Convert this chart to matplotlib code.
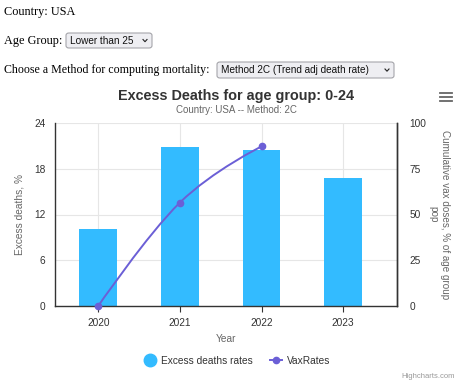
import matplotlib.pyplot as plt
import numpy as np
from matplotlib.path import Path
from matplotlib.patches import PathPatch, FancyBboxPatch
from matplotlib.lines import Line2D

years = ["2020", "2021", "2022", "2023"]
excess = [10.1, 20.9, 20.4, 16.8]
vax_years = [0, 1, 2]
vax = [0, 56.5, 87.2]

BAR = "#33bbff"
LINE = "#6b5fd6"
sans = "Liberation Sans"
serif = "Liberation Serif"

W, H = 468, 380
fig = plt.figure(figsize=(W / 100, H / 100), dpi=100)

def fx(px):
    return px / W

def fy(py):
    return 1 - py / H

# html controls above the chart
fig.text(fx(4), fy(12), "Country: USA", family=serif, size=8.8, va="center")
fig.text(fx(4), fy(41), "Age Group:", family=serif, size=8.8, va="center")
fig.text(fx(4), fy(70), "Choose a Method for computing mortality:", family=serif, size=8.6, va="center")

def dropdown(x0, x1, y0, y1, label):
    box = FancyBboxPatch((fx(x0), fy(y1)), fx(x1 - x0), (y1 - y0) / H,
                         boxstyle="round,pad=0,rounding_size=0.006",
                         transform=fig.transFigure, fc="#eeeef2", ec="#9a9aa0", lw=0.7)
    fig.patches.append(box)
    fig.text(fx(x0 + 4), fy((y0 + y1) / 2), label, family=sans, size=7.2, va="center", color="#111111")
    cx, cy = x1 - 7, (y0 + y1) / 2
    fig.add_artist(Line2D([fx(cx - 2), fx(cx), fx(cx + 2)], [fy(cy - 1), fy(cy + 1.2), fy(cy - 1)],
                          transform=fig.transFigure, color="#222222", lw=0.8))

dropdown(66, 152, 33, 48, "Lower than 25")
dropdown(217, 394, 62, 78, "Method 2C (Trend adj death rate)")

# chart
ax = fig.add_axes([fx(55), fy(306), fx(397 - 55), (306 - 123) / H])
x = np.arange(len(years))
ax.bar(x, excess, width=0.465, color=BAR, zorder=2)
ax.set_xlim(-0.53, 3.66)
ax.set_ylim(0, 24)
ax.set_yticks([0, 6, 12, 18, 24])
ax.set_xticks(x)
ax.set_xticklabels(years)
ax.grid(True, color="#e6e6e6", lw=0.8, zorder=0)
ax.set_axisbelow(True)
ax.spines["top"].set_visible(False)
for s in ["left", "right", "bottom"]:
    ax.spines[s].set_color("#333333")
    ax.spines[s].set_linewidth(1.0)
ax.tick_params(axis="y", length=0, labelsize=7.3, labelcolor="#333333", pad=7)
ax.tick_params(axis="x", length=4, color="#333333", labelsize=7.3, labelcolor="#333333", pad=5)
for t in ax.get_xticklabels() + ax.get_yticklabels():
    t.set_family(sans)
ax.set_xlabel("Year", family=sans, size=7.3, color="#666666", labelpad=4)
ax.set_ylabel("Excess deaths, %", family=sans, size=7.3, color="#666666", labelpad=7)

ax2 = ax.twinx()
ax2.set_ylim(0, 100)
ax2.set_yticks([0, 25, 50, 75, 100])
ax2.tick_params(axis="y", length=0, labelsize=7.3, labelcolor="#333333", pad=9)
for t in ax2.get_yticklabels():
    t.set_family(sans)
for s in ["top", "left", "bottom"]:
    ax2.spines[s].set_visible(False)
ax2.spines["right"].set_color("#333333")
ax2.spines["right"].set_linewidth(1.0)
ax2.set_ylabel("Cumulative vax doses, % of age group\npop", family=sans, size=7.1,
               color="#666666", rotation=270, labelpad=17, linespacing=1.25)

# spline like highcharts (smoothing 1.5)
def spline_path(xs, ys, smooth=1.5):
    n = len(xs)
    verts = [(xs[0], ys[0])]
    codes = [Path.MOVETO]
    conts = []
    for i in range(n):
        if 0 < i < n - 1:
            d = smooth + 1
            lx = (smooth * xs[i] + xs[i - 1]) / d
            ly = (smooth * ys[i] + ys[i - 1]) / d
            rx = (smooth * xs[i] + xs[i + 1]) / d
            ry = (smooth * ys[i] + ys[i + 1]) / d
            corr = ((ry - ly) * (rx - xs[i])) / (rx - lx) + ys[i] - ry
            conts.append(((lx, ly + corr), (rx, ry + corr)))
        else:
            conts.append(((xs[i], ys[i]), (xs[i], ys[i])))
    for i in range(1, n):
        verts += [conts[i - 1][1], conts[i][0], (xs[i], ys[i])]
        codes += [Path.CURVE4] * 3
    return Path(verts, codes)

ax2.add_patch(PathPatch(spline_path(vax_years, vax), fc="none", ec=LINE, lw=1.4, zorder=4))
ax2.plot(vax_years, vax, "o", color=LINE, ms=4.5, zorder=5, clip_on=False)

# titles
fig.text(fx(236), fy(96), "Excess Deaths for age group: 0-24", family=sans, size=10.4,
         weight="bold", color="#333333", ha="center", va="center")
fig.text(fx(236), fy(110), "Country: USA -- Method: 2C", family=sans, size=7.0,
         color="#666666", ha="center", va="center")

# hamburger menu
for yy in [93, 97, 101]:
    fig.add_artist(Line2D([fx(440), fx(452)], [fy(yy), fy(yy)], transform=fig.transFigure,
                          color="#666666", lw=1.3))

# legend
handles = [Line2D([], [], ls="none", marker="o", ms=9, color=BAR),
           Line2D([], [], color=LINE, lw=1.4, marker="o", ms=4.5)]
leg = fig.legend(handles, ["Excess deaths rates", "VaxRates"], loc="center",
                 bbox_to_anchor=(fx(237), fy(361)), ncol=2, frameon=False,
                 prop={"family": sans, "size": 7.3}, handlelength=1.2,
                 columnspacing=1.7, handletextpad=0.5)
for t in leg.get_texts():
    t.set_color("#333333")

fig.text(fx(455), fy(376), "Highcharts.com", family=sans, size=5.5, color="#999999",
         ha="right", va="center")

fig.savefig("out.png", dpi=100)
